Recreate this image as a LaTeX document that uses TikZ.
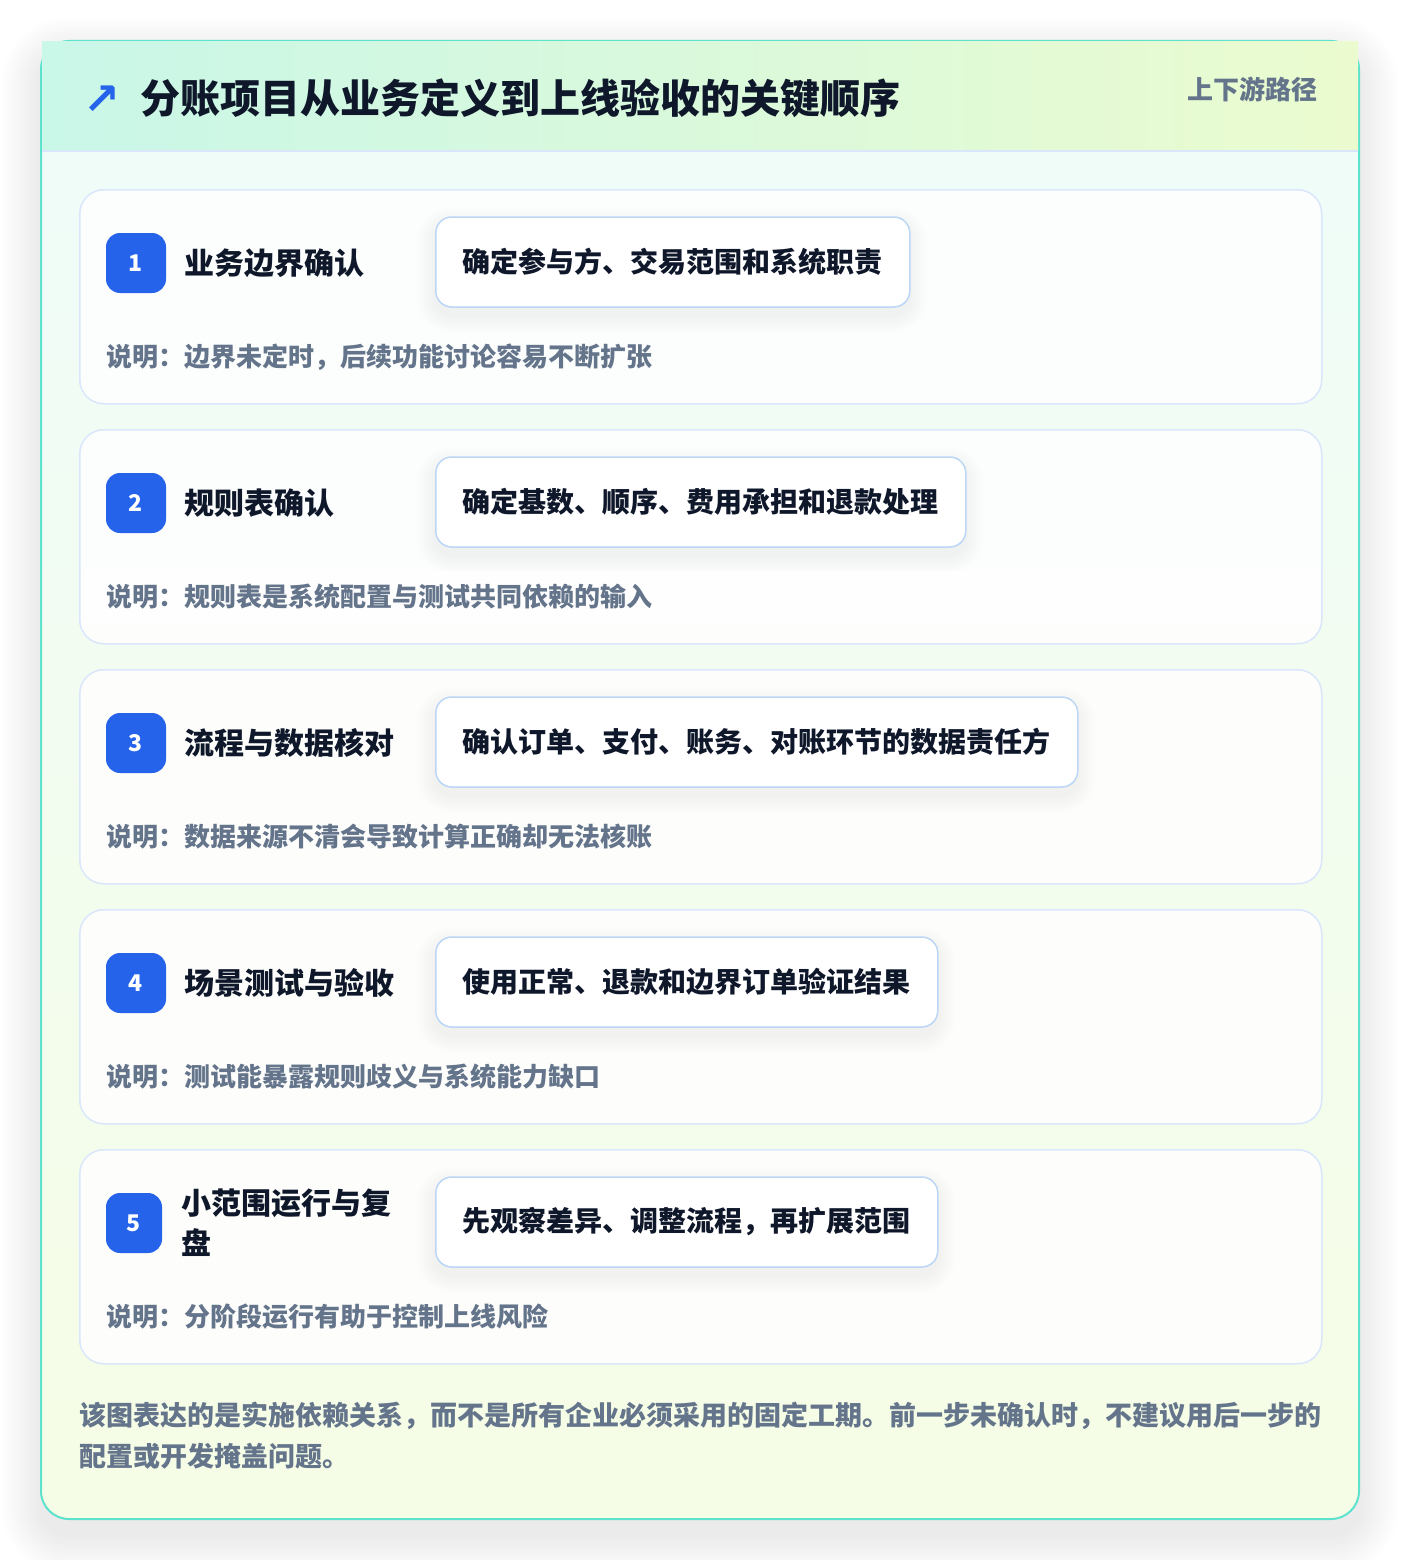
\documentclass[tikz,border=0pt]{standalone}
\usepackage{fontspec}
\setmainfont{Noto Sans CJK SC}
\newfontfamily\symfont{DejaVu Sans}
\definecolor{tealB}{HTML}{5EE2CE}
\definecolor{hdrL}{HTML}{C9F7E8}
\definecolor{hdrR}{HTML}{EBFBCF}
\definecolor{bodyTop}{HTML}{EFFCF9}
\definecolor{bodyBot}{HTML}{F6FDE6}
\definecolor{cardB}{HTML}{D9E6FB}
\definecolor{detB}{HTML}{BCD6F6}
\definecolor{badgeC}{HTML}{2563EB}
\definecolor{darkT}{HTML}{0F172A}
\definecolor{mutedT}{HTML}{64748B}
% soft shadow: x1 y1 x2 y2 radius steps opacity stepsize yoffset
\newcommand\mkshadow[9]{%
  \foreach \k in {1,...,#6}{%
    \pgfmathsetmacro\dd{\k*#8}%
    \pgfmathsetmacro\rr{#5+\dd}%
    \fill[black, opacity=#7, rounded corners=\rr pt] ({#1-\dd},{#2-\dd+#9}) rectangle ({#3+\dd},{#4+\dd+#9});
  }%
}
\tikzset{
  cardstyle/.style={draw=cardB, line width=1.5pt, fill=white, fill opacity=0.85, draw opacity=1, rounded corners=24pt, anchor=north west, inner sep=0pt, minimum width=1242pt, minimum height=214pt},
  badgestyle/.style={fill=badgeC, rounded corners=14pt, minimum height=60pt, inner sep=0pt, text=white, font=\bfseries\fontsize{23}{24}\selectfont},
  steptitle/.style={anchor=west, inner sep=0pt, align=left, text=darkT, font=\bfseries\fontsize{30}{40}\selectfont},
  detailbox/.style={anchor=west, draw=detB, line width=1.5pt, fill=white, rounded corners=16pt, inner xsep=27pt, inner ysep=0pt, minimum height=90pt, text=darkT, font=\bfseries\fontsize{28}{32}\selectfont},
  notestyle/.style={anchor=west, inner sep=0pt, text=mutedT, font=\bfseries\fontsize{26}{30}\selectfont},
}
\begin{document}
\begin{tikzpicture}[x=1pt,y=-1pt]
\useasboundingbox (0,0) rectangle (1400,1560);
\fill[white] (0,0) rectangle (1400,1560);
% outer card shadow
\mkshadow{41}{41}{1359}{1519}{28}{20}{0.0045}{2}{16}
% outer card
\path[top color=bodyTop, bottom color=bodyBot, draw=tealB, line width=2pt, rounded corners=28pt] (41,41) rectangle (1359,1519);
% header
\shade[left color=hdrL, right color=hdrR] (42,42) rectangle (1358,151);
\draw[cardB, line width=1.5pt] (42,151) -- (1358,151);
\node[inner sep=0pt, text=badgeC, font=\symfont\bfseries\fontsize{44}{44}\selectfont] (icon) at (102,100) {↗};
\node[anchor=west, inner sep=0pt, text=darkT, font=\bfseries\fontsize{40}{44}\selectfont] (title) at (140,98) {分账项目从业务定义到上线验收的关键顺序};
\node[anchor=east, inner sep=0pt, text=mutedT, font=\bfseries\fontsize{26}{30}\selectfont] (tag) at (1318,89) {上下游路径};
% steps
\foreach \i/\ttl/\det/\note/\bw/\tx/\dw in {
1/业务边界确认/确定参与方、交易范围和系统职责/边界未定时，后续功能讨论容易不断扩张/60/184/474,
2/规则表确认/确定基数、顺序、费用承担和退款处理/规则表是系统配置与测试共同依赖的输入/60/184/530,
3/流程与数据核对/确认订单、支付、账务、对账环节的数据责任方/数据来源不清会导致计算正确却无法核账/60/184/642,
4/场景测试与验收/使用正常、退款和边界订单验证结果/测试能暴露规则歧义与系统能力缺口/60/184/502,
5/{小范围运行与复\\盘}/先观察差异、调整流程，再扩展范围/分阶段运行有助于控制上线风险/56/181/502}
{
  \pgfmathsetmacro\t{189+240*(\i-1)}
  \node[cardstyle] (c\i) at (79,\t) {};
  \mkshadow{435}{\t+28}{435+\dw}{\t+118}{16}{12}{0.0045}{1.5}{8}
  \node[badgestyle, minimum width=\bw pt] (b\i) at ({106+\bw/2},\t+74) {\i};
  \node[steptitle] (s\i) at (\tx,\t+74) {\ttl};
  \node[detailbox, minimum width=\dw pt] (d\i) at (435,\t+73) {\det};
  \node[notestyle] (n\i) at (106,\t+168) {说明：\note};
}
% footer
\node[anchor=west, align=left, inner sep=0pt, text=mutedT, font=\bfseries\fontsize{27}{41}\selectfont] (foot) at (79,1435.5) {该图表达的是实施依赖关系，而不是所有企业必须采用的固定工期。前一步未确认时，不建议用后一步的\\配置或开发掩盖问题。};
\end{tikzpicture}
\end{document}
